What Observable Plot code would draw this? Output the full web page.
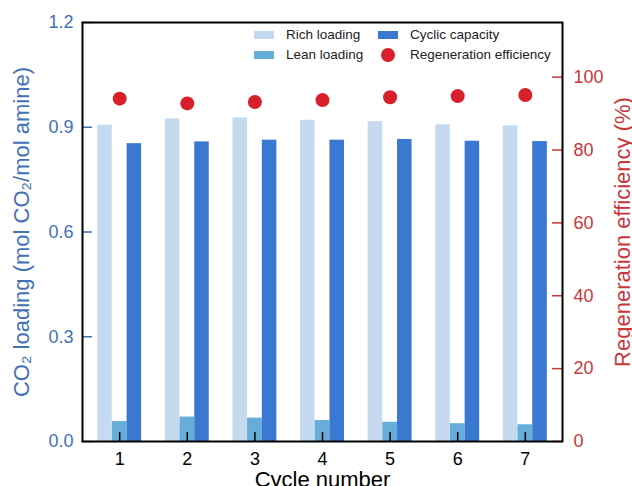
<!DOCTYPE html>
<html><head><meta charset="utf-8">
<script src="https://cdn.jsdelivr.net/npm/d3@7"></script>
<script src="https://cdn.jsdelivr.net/npm/@observablehq/plot@0.6"></script>
<style>
body{margin:0;background:#fff;font-family:"Liberation Sans",Arial,sans-serif;}
#wrap{position:relative;width:632px;height:486px;}
.lg{position:absolute;font-size:13.5px;color:#222;line-height:1;white-space:nowrap;transform:translateY(-50%);}
.sw{position:absolute;width:20px;height:8px;}
.dt{position:absolute;width:14px;height:14px;border-radius:50%;}
</style></head><body><div id="wrap"></div>
<script>
const cycles = [1, 2, 3, 4, 5, 6, 7];
const richLoading = [0.906, 0.924, 0.927, 0.920, 0.916, 0.907, 0.904];
const leanLoading = [0.057, 0.070, 0.067, 0.060, 0.055, 0.051, 0.048];
const cyclicCapacity = [0.853, 0.858, 0.863, 0.863, 0.865, 0.860, 0.859];
const regenEfficiency = [94.1, 92.8, 93.2, 93.7, 94.5, 94.8, 95.1];
const leftTicks = [0, 0.3, 0.6, 0.9, 1.2];
const rightTicks = [0, 20, 40, 60, 80, 100];
const leftMax = 1.2, rightMax = 115;
const seriesNames = ["Rich loading", "Lean loading", "Cyclic capacity", "Regeneration efficiency"];
const yLabel = "CO\u2082 loading (mol CO\u2082/mol amine)";
const y2Label = "Regeneration efficiency (%)";
const xLabel = "Cycle number";

const C = {rich: "#c6daef", lean: "#66aed9", cyc: "#3b78d2", dot: "#d7202a", blue: "#4271b6", red: "#c8363a"};
const k = leftMax / rightMax;
const data = cycles.map((c, i) => ({cycle: c, rich: richLoading[i], lean: leanLoading[i], cyc: cyclicCapacity[i], eff: regenEfficiency[i]}));
const font = '"Liberation Sans", Arial, sans-serif';

const plot = Plot.plot({
  width: 632, height: 486,
  marginLeft: 82, marginRight: 70, marginTop: 22, marginBottom: 45,
  style: {fontFamily: font, background: "white"},
  x: {domain: [0.45, 7.55]},
  y: {domain: [0, leftMax]},
  marks: [
    Plot.rect(data, {x1: d => d.cycle - 0.325, x2: d => d.cycle - 0.11, y1: 0, y2: "rich", fill: C.rich}),
    Plot.rect(data, {x1: d => d.cycle - 0.108, x2: d => d.cycle + 0.11, y1: 0, y2: "lean", fill: C.lean}),
    Plot.rect(data, {x1: d => d.cycle + 0.11, x2: d => d.cycle + 0.325, y1: 0, y2: "cyc", fill: C.cyc}),
    Plot.dot(data, {x: "cycle", y: d => d.eff * k, r: 7, fill: C.dot, stroke: null}),
    Plot.tickY(leftTicks, {y: d => d, stroke: C.blue, strokeWidth: 1.5, insetRight: 470}),
    Plot.tickY(rightTicks, {y: d => d * k, stroke: C.red, strokeWidth: 1.5, insetLeft: 470}),
    Plot.tickX(cycles, {x: d => d, stroke: "black", strokeWidth: 1.5, insetTop: 410}),
    Plot.axisY(leftTicks, {anchor: "left", tickSize: 0, tickPadding: 9, tickFormat: d3.format(".1f"), fill: C.blue, fontSize: 18, label: null}),
    Plot.axisY(rightTicks.map(t => t * k), {anchor: "right", tickSize: 0, tickPadding: 11, tickFormat: d => Math.round(d / k), fill: C.red, fontSize: 18, label: null}),
    Plot.axisX(cycles, {anchor: "bottom", tickSize: 0, tickPadding: 11, fill: "black", fontSize: 18, label: null}),
    Plot.frame({stroke: "black", strokeWidth: 2}),
    Plot.text([yLabel], {frameAnchor: "left", textAnchor: "middle", lineAnchor: "middle", rotate: -90, dx: -61, fill: C.blue, fontSize: 22}),
    Plot.text([y2Label], {frameAnchor: "right", textAnchor: "middle", lineAnchor: "middle", rotate: -90, dx: 60, fill: C.red, fontSize: 22}),
    Plot.text([xLabel], {frameAnchor: "bottom", textAnchor: "middle", lineAnchor: "middle", dy: 38, fill: "black", fontSize: 22})
  ]
});
const wrap = document.getElementById("wrap");
wrap.appendChild(plot);

// legend overlay
const legendItems = [
  {name: seriesNames[0], color: C.rich, type: "sw", sx: 254, sy: 35, tx: 286},
  {name: seriesNames[1], color: C.lean, type: "sw", sx: 254, sy: 55, tx: 286},
  {name: seriesNames[2], color: C.cyc, type: "sw", sx: 378, sy: 35, tx: 410},
  {name: seriesNames[3], color: C.dot, type: "dt", sx: 381, sy: 55, tx: 410}
];
for (const it of legendItems) {
  const s = document.createElement("div");
  s.className = it.type;
  s.style.background = it.color;
  s.style.left = it.sx + "px";
  s.style.top = (it.sy - (it.type === "sw" ? 4 : 7)) + "px";
  wrap.appendChild(s);
  const t = document.createElement("div");
  t.className = "lg";
  t.textContent = it.name;
  t.style.left = it.tx + "px";
  t.style.top = it.sy + "px";
  wrap.appendChild(t);
}
</script></body></html>
